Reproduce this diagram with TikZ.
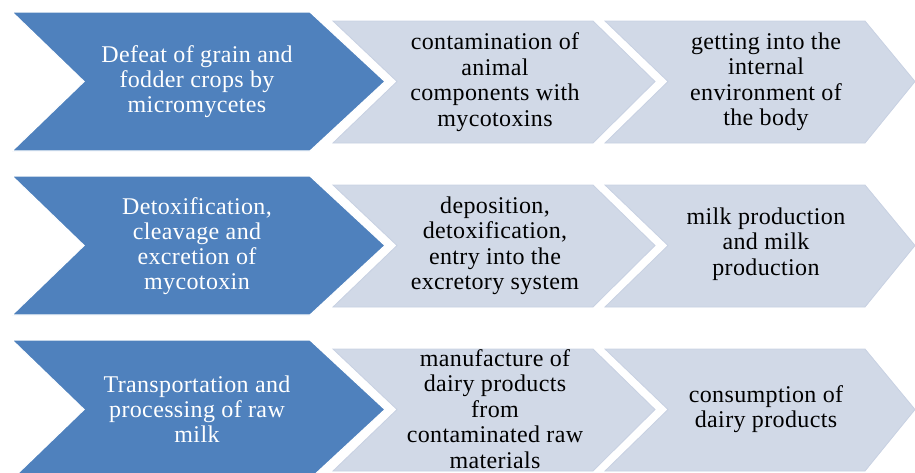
\documentclass[tikz,border=0pt]{standalone}
\usepackage{fontspec}
\setmainfont{Liberation Serif}[LetterSpace=1.5]
\definecolor{chevblue}{HTML}{4F81BD}
\definecolor{chevgray}{HTML}{D1D9E7}
\definecolor{chevedge}{HTML}{C8D1E2}
\begin{document}
\begin{tikzpicture}[x=1pt,y=-1pt,
  bigchev/.style={fill=chevblue,draw=white,line width=1.2pt},
  graychev/.style={fill=chevgray,draw=chevedge,line width=0.8pt},
  bigtxt/.style={align=center,text=white,font=\rmfamily\fontsize{24}{25}\selectfont,inner sep=0pt},
  graytxt/.style={align=center,text=black,font=\rmfamily\fontsize{24}{25.5}\selectfont,inner sep=0pt}]
\useasboundingbox (0,0) rectangle (915,472);
\foreach \T/\M in {12/81.5,176/245.5,340/409.5}{
  \pgfmathsetmacro{\B}{\T+139}
  \pgfmathsetmacro{\t}{\T+9}
  \pgfmathsetmacro{\b}{\T+131}
  \path[bigchev] (12,\T) -- (310,\T) -- (385,\M) -- (310,\B) -- (12,\B) -- (84,\M) -- cycle;
  \path[graychev] (333,\t) -- (593,\t) -- (655,\M) -- (593,\b) -- (333,\b) -- (397,\M) -- cycle;
  \path[graychev] (605,\t) -- (865,\t) -- (915,\M) -- (865,\b) -- (605,\b) -- (668,\M) -- cycle;
}
\node[bigtxt] (a1) at (197,82) {Defeat of grain and\\fodder crops by\\micromycetes};
\node[graytxt] (b1) at (495,82) {contamination of\\animal\\components with\\mycotoxins};
\node[graytxt] (c1) at (766,82) {getting into the\\internal\\environment of\\the body};
\node[bigtxt] (a2) at (197,246) {Detoxification,\\cleavage and\\excretion of\\mycotoxin};
\node[graytxt] (b2) at (495,246) {deposition,\\detoxification,\\entry into the\\excretory system};
\node[graytxt] (c2) at (766,244) {milk production\\and milk\\production};
\node[bigtxt] (a3) at (197,409) {Transportation and\\processing of raw\\milk};
\node[graytxt] (b3) at (495,409) {manufacture of\\dairy products\\from\\contaminated raw\\materials};
\node[graytxt] (c3) at (766,409) {consumption of\\dairy products};
\end{tikzpicture}
\end{document}
